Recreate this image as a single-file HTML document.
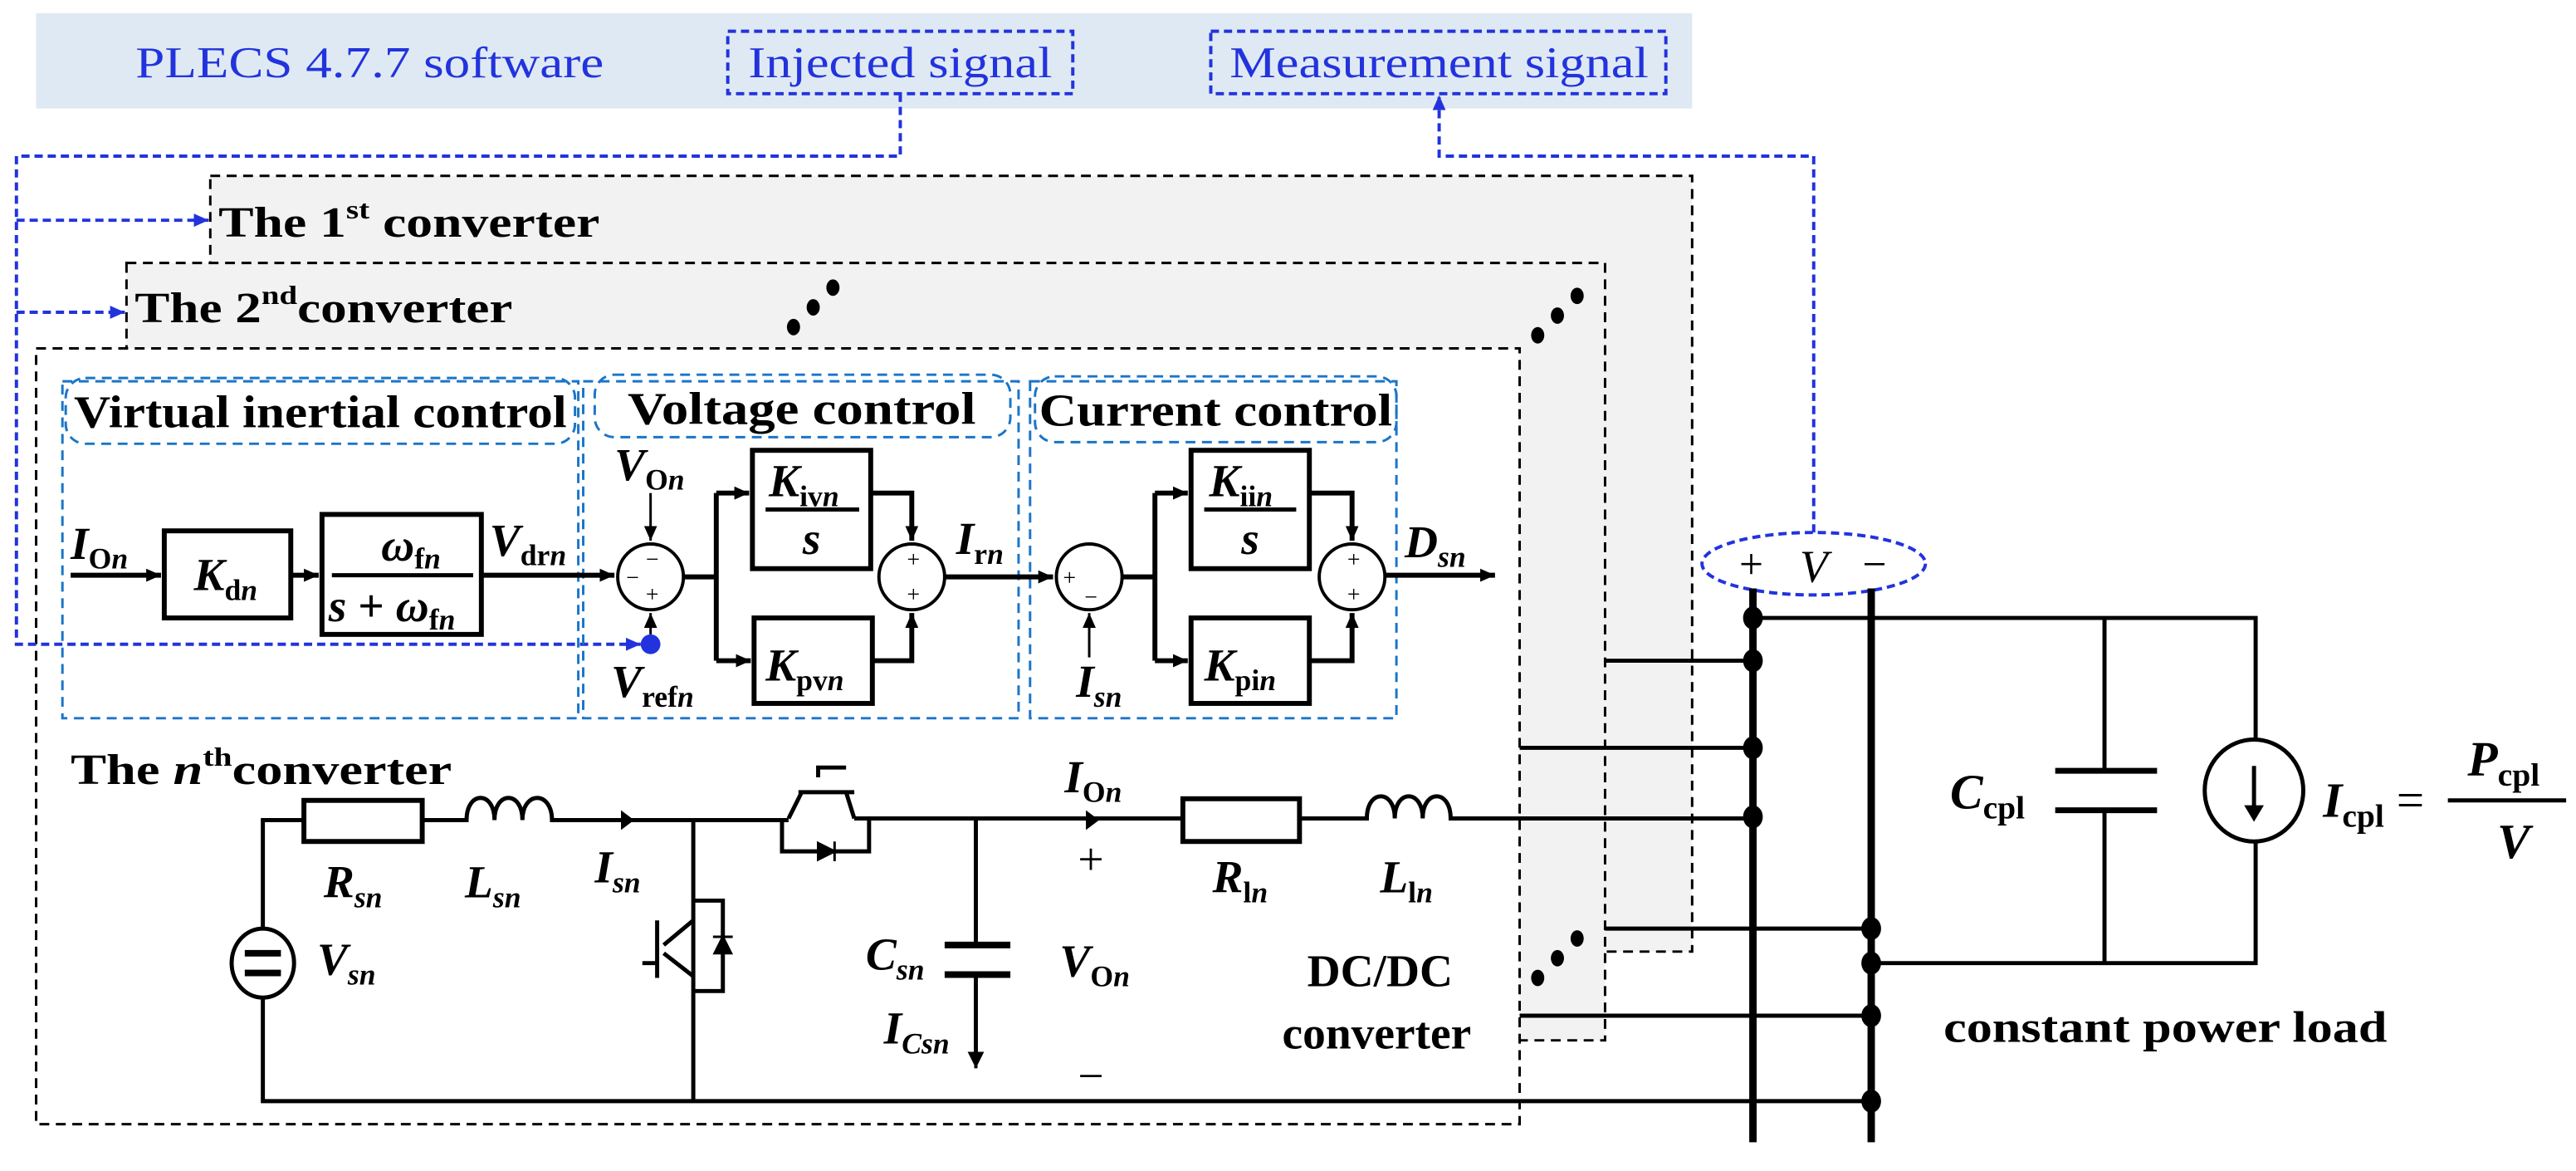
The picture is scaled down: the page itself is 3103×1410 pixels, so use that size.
<!DOCTYPE html>
<html><head><meta charset="utf-8"><style>
html,body{margin:0;padding:0;background:#fff;}
svg{display:block;}
</style></head><body>
<svg width="3103" height="1410" viewBox="0 0 1568 712.5" preserveAspectRatio="none" xmlns="http://www.w3.org/2000/svg" font-family="'Liberation Serif', 'Times New Roman', serif" font-weight="bold">
<defs>
<marker id="ab" markerWidth="10" markerHeight="10" refX="9" refY="5" orient="auto" markerUnits="userSpaceOnUse"><path d="M0,1 L9,5 L0,9 Z" fill="#000"/></marker>
<marker id="abl" markerWidth="10" markerHeight="10" refX="9" refY="5" orient="auto" markerUnits="userSpaceOnUse"><path d="M0,1 L9,5 L0,9 Z" fill="#2233dd"/></marker>
</defs>
<rect x="22" y="8" width="1008" height="58" fill="#dfe9f3"/>
<text x="225" y="47" font-size="27" fill="#2233dd" font-weight="normal" text-anchor="middle" textLength="285" lengthAdjust="spacingAndGlyphs">PLECS 4.7.7 software</text>
<rect x="443" y="19" width="210" height="38" fill="none" stroke="#2233dd" stroke-width="2" stroke-dasharray="5,3"/>
<text x="548" y="47" font-size="27" fill="#2233dd" font-weight="normal" text-anchor="middle" textLength="185" lengthAdjust="spacingAndGlyphs">Injected signal</text>
<rect x="737" y="19" width="277" height="38" fill="none" stroke="#2233dd" stroke-width="2" stroke-dasharray="5,3"/>
<text x="876" y="47" font-size="27" fill="#2233dd" font-weight="normal" text-anchor="middle" textLength="255" lengthAdjust="spacingAndGlyphs">Measurement signal</text>

<rect x="128" y="107" width="902" height="472" fill="#f2f2f2" stroke="#000" stroke-width="1.5" stroke-dasharray="6,4"/>
<rect x="77" y="160" width="900" height="473" fill="#f2f2f2" stroke="#000" stroke-width="1.5" stroke-dasharray="6,4"/>
<rect x="22" y="212" width="903" height="472" fill="#fff" stroke="#000" stroke-width="1.5" stroke-dasharray="6,4"/>
<text x="133" y="144" font-size="26" textLength="232" lengthAdjust="spacingAndGlyphs">The 1<tspan font-size="16" dy="-11">st</tspan><tspan dy="11"> converter</tspan></text>
<text x="82" y="196" font-size="26" textLength="230" lengthAdjust="spacingAndGlyphs">The 2<tspan font-size="16" dy="-11">nd</tspan><tspan dy="11">converter</tspan></text>
<g fill="#000">
<ellipse cx="483" cy="199" rx="4" ry="5"/><ellipse cx="495" cy="187" rx="4" ry="5"/><ellipse cx="507" cy="175" rx="4" ry="5"/>
<ellipse cx="936" cy="204" rx="4" ry="5"/><ellipse cx="948" cy="192" rx="4" ry="5"/><ellipse cx="960" cy="180" rx="4" ry="5"/>
<ellipse cx="936" cy="595" rx="4" ry="5"/><ellipse cx="948" cy="583" rx="4" ry="5"/><ellipse cx="960" cy="571" rx="4" ry="5"/>
</g>

<g fill="none" stroke="#2233dd" stroke-width="2" stroke-dasharray="5,3">
<path d="M548,57 V95 H10 V392 H390" marker-end="url(#abl)"/>
<path d="M10,134 H127" marker-end="url(#abl)"/>
<path d="M10,190 H76" marker-end="url(#abl)"/>
<path d="M1104,324 V95 H876 V58" marker-end="url(#abl)"/>
<ellipse cx="1104" cy="343" rx="68" ry="19"/>
</g>
<circle cx="396" cy="392" r="6" fill="#2233dd"/>
<text x="1066" y="352" font-size="26" font-weight="normal" text-anchor="middle">+</text>
<text x="1104" y="354" font-size="28" font-style="italic" font-weight="normal" text-anchor="middle">V</text>
<text x="1141" y="352" font-size="26" font-weight="normal" text-anchor="middle">−</text>

<g fill="none" stroke="#1a75c8" stroke-width="1.5" stroke-dasharray="6,4">
<rect x="38" y="232" width="314" height="205"/>
<rect x="40" y="230" width="310" height="40" rx="12"/>
<rect x="355" y="232" width="265" height="205"/>
<rect x="362" y="228" width="253" height="38" rx="12"/>
<rect x="627" y="232" width="223" height="205"/>
<rect x="630" y="229" width="220" height="40" rx="12"/>
</g>
<text x="195" y="260" font-size="28" text-anchor="middle" textLength="300" lengthAdjust="spacingAndGlyphs">Virtual inertial control</text>
<text x="488" y="258" font-size="28" text-anchor="middle" textLength="212" lengthAdjust="spacingAndGlyphs">Voltage control</text>
<text x="740" y="259" font-size="28" text-anchor="middle" textLength="215" lengthAdjust="spacingAndGlyphs">Current control</text>

<g stroke="#000" stroke-width="3" fill="#fff">
<rect x="100" y="323" width="77" height="53"/>
<rect x="196" y="313" width="97" height="73"/>
<rect x="458" y="274" width="72" height="72"/>
<rect x="459" y="376" width="72" height="52"/>
<rect x="725" y="274" width="72" height="72"/>
<rect x="725" y="376" width="72" height="52"/>
</g>
<g stroke="#000" stroke-width="2" fill="#fff">
<circle cx="396" cy="351" r="20"/><circle cx="555" cy="351" r="20"/>
<circle cx="663" cy="351" r="20"/><circle cx="823" cy="351" r="20"/>
</g>
<g stroke="#000" stroke-width="3" fill="none">
<line x1="43" y1="350" x2="98" y2="350" marker-end="url(#ab)"/>
<line x1="177" y1="350" x2="194" y2="350" marker-end="url(#ab)"/>
<line x1="293" y1="350" x2="374" y2="350" marker-end="url(#ab)"/>
<line x1="416" y1="351" x2="436" y2="351"/>
<path d="M436,300 V402"/>
<line x1="436" y1="300" x2="456" y2="300" marker-end="url(#ab)"/>
<line x1="436" y1="402" x2="457" y2="402" marker-end="url(#ab)"/>
<path d="M530,300 H555 V329" marker-end="url(#ab)"/>
<path d="M531,402 H555 V373" marker-end="url(#ab)"/>
<line x1="575" y1="351" x2="641" y2="351" marker-end="url(#ab)"/>
<line x1="683" y1="351" x2="703" y2="351"/>
<path d="M703,300 V402"/>
<line x1="703" y1="300" x2="723" y2="300" marker-end="url(#ab)"/>
<line x1="703" y1="402" x2="723" y2="402" marker-end="url(#ab)"/>
<path d="M797,300 H823 V329" marker-end="url(#ab)"/>
<path d="M797,402 H823 V373" marker-end="url(#ab)"/>
<line x1="843" y1="350" x2="910" y2="350" marker-end="url(#ab)"/>
</g>
<g stroke="#000" stroke-width="1.5" fill="none">
<line x1="396" y1="300" x2="396" y2="329" marker-end="url(#ab)"/>
<line x1="396" y1="386" x2="396" y2="373" marker-end="url(#ab)"/>
<line x1="663" y1="400" x2="663" y2="373" marker-end="url(#ab)"/>
<line x1="202" y1="350" x2="288" y2="350" stroke-width="2.5"/>
<line x1="466" y1="310" x2="523" y2="310" stroke-width="2.5"/>
<line x1="733" y1="310" x2="789" y2="310" stroke-width="2.5"/>
</g>
<g font-size="14" font-weight="normal" text-anchor="middle">
<text x="397" y="345">−</text><text x="385" y="356">−</text><text x="397" y="366">+</text>
<text x="556" y="345">+</text><text x="556" y="366">+</text>
<text x="651" y="356">+</text><text x="664" y="368">−</text>
<text x="824" y="345">+</text><text x="824" y="366">+</text>
</g>
<g font-size="28">
<text x="43" y="340"><tspan font-style="italic">I</tspan><tspan font-size="18" dy="6">O<tspan font-style="italic">n</tspan></tspan></text>
<text x="118" y="359"><tspan font-style="italic">K</tspan><tspan font-size="18" dy="6">d<tspan font-style="italic">n</tspan></tspan></text>
<text x="232" y="341" font-style="italic">ω<tspan font-size="18" dy="5" font-style="normal">f<tspan font-style="italic">n</tspan></tspan></text>
<text x="200" y="378" font-style="italic">s<tspan font-style="normal"> + </tspan>ω<tspan font-size="18" dy="5" font-style="normal">f<tspan font-style="italic">n</tspan></tspan></text>
<text x="298" y="338"><tspan font-style="italic">V</tspan><tspan font-size="18" dy="6">dr<tspan font-style="italic">n</tspan></tspan></text>
<text x="374" y="292"><tspan font-style="italic">V</tspan><tspan font-size="18" dy="6">O<tspan font-style="italic">n</tspan></tspan></text>
<text x="372" y="424"><tspan font-style="italic">V</tspan><tspan font-size="18" dy="6">ref<tspan font-style="italic">n</tspan></tspan></text>
<text x="468" y="302"><tspan font-style="italic">K</tspan><tspan font-size="18" dy="6">iv<tspan font-style="italic">n</tspan></tspan></text>
<text x="494" y="337" text-anchor="middle" font-style="italic">s</text>
<text x="466" y="414"><tspan font-style="italic">K</tspan><tspan font-size="18" dy="6">pv<tspan font-style="italic">n</tspan></tspan></text>
<text x="582" y="337"><tspan font-style="italic">I</tspan><tspan font-size="18" dy="6">r<tspan font-style="italic">n</tspan></tspan></text>
<text x="655" y="424"><tspan font-style="italic">I</tspan><tspan font-size="18" dy="6" font-style="italic">sn</tspan></text>
<text x="736" y="302"><tspan font-style="italic">K</tspan><tspan font-size="18" dy="6">ii<tspan font-style="italic">n</tspan></tspan></text>
<text x="761" y="337" text-anchor="middle" font-style="italic">s</text>
<text x="733" y="414"><tspan font-style="italic">K</tspan><tspan font-size="18" dy="6">pi<tspan font-style="italic">n</tspan></tspan></text>
<text x="855" y="339"><tspan font-style="italic">D</tspan><tspan font-size="18" dy="6" font-style="italic">sn</tspan></text>
</g>

<text x="43" y="477" font-size="26" textLength="232" lengthAdjust="spacingAndGlyphs">The <tspan font-style="italic">n</tspan><tspan font-size="16" dy="-11">th</tspan><tspan dy="11">converter</tspan></text>
<g stroke="#000" stroke-width="2.5" fill="none">
<path d="M160,566 V499 H185"/>
<path d="M160,607 V670 H1139"/>
<rect x="185" y="487" width="72" height="25" stroke-width="3"/>
<path d="M257,499 H284 c0,-18 17,-18 17,0 c0,-18 17,-18 17,0 c0,-18 18,-18 18,0 H480"/>
<path d="M520,498 H594 V575"/>
<path d="M594,593 V640"/>
<path d="M594,498 H720"/>
<rect x="720" y="486" width="71" height="26" stroke-width="3"/>
<path d="M791,498 H832 c0,-18 17,-18 17,0 c0,-18 17,-18 17,0 c0,-18 17,-18 17,0 H1067"/>
<ellipse cx="160" cy="586" rx="19" ry="21"/>
<path d="M422,499 V670"/>
<path d="M422,548 H440 V603 H422"/>
<path d="M480,498 L488,482 M515,482 L520,498 M486,482 H520 M498,473 V467 H515"/>
<path d="M476,498 V518 H529 V498"/>
<path d="M422,560 L404,575 M404,580 L422,594 M400,560 V595 M391,586 H400"/>
<path d="M575,575 H615 M575,593 H615" stroke-width="4"/>
</g>
<path d="M149,580 H171 M149,592 H171" stroke="#000" stroke-width="4"/>
<path d="M498,513 L508,518 L498,523 Z M508,512 V524" fill="#000" stroke="#000" stroke-width="1.5"/>
<path d="M435,580 L440,570 L445,580 Z M434,570 H446" fill="#000" stroke="#000" stroke-width="1.5"/>
<path d="M378,493 L386,499 L378,505 Z M661,493 L669,499 L661,505 Z M589,640 L594,650 L599,640 Z" fill="#000"/>
<line x1="594" y1="640" x2="594" y2="650" stroke="#000" stroke-width="2"/>
<g font-size="28">
<text x="197" y="546"><tspan font-style="italic">R</tspan><tspan font-size="18" dy="6" font-style="italic">sn</tspan></text>
<text x="283" y="546"><tspan font-style="italic">L</tspan><tspan font-size="18" dy="6" font-style="italic">sn</tspan></text>
<text x="362" y="537"><tspan font-style="italic">I</tspan><tspan font-size="18" dy="6" font-style="italic">sn</tspan></text>
<text x="193" y="593"><tspan font-style="italic">V</tspan><tspan font-size="18" dy="6" font-style="italic">sn</tspan></text>
<text x="527" y="590"><tspan font-style="italic">C</tspan><tspan font-size="18" dy="6" font-style="italic">sn</tspan></text>
<text x="538" y="635"><tspan font-style="italic">I</tspan><tspan font-size="18" dy="6" font-style="italic">Csn</tspan></text>
<text x="645" y="594"><tspan font-style="italic">V</tspan><tspan font-size="18" dy="6">O<tspan font-style="italic">n</tspan></tspan></text>
<text x="648" y="482"><tspan font-style="italic">I</tspan><tspan font-size="18" dy="6">O<tspan font-style="italic">n</tspan></tspan></text>
<text x="738" y="543"><tspan font-style="italic">R</tspan><tspan font-size="18" dy="6">l<tspan font-style="italic">n</tspan></tspan></text>
<text x="840" y="543"><tspan font-style="italic">L</tspan><tspan font-size="18" dy="6">l<tspan font-style="italic">n</tspan></tspan></text>
<text x="664" y="532" font-weight="normal" text-anchor="middle">+</text>
<text x="664" y="664" font-weight="normal" text-anchor="middle">−</text>
<text x="840" y="600" text-anchor="middle">DC/DC</text>
<text x="838" y="638" text-anchor="middle">converter</text>
</g>

<g stroke="#000" stroke-width="2.5" fill="none">
<path d="M977,402 H1067 M925,455 H1067 M977,565 H1139 M925,618 H1139"/>
<path d="M1067,376 H1373 V450 M1373,512 V586 H1139"/>
<path d="M1281,376 V469 M1281,493 V586"/>
<ellipse cx="1372" cy="481" rx="30" ry="31"/>
<path d="M1251,469 H1313 M1251,493 H1313" stroke-width="3.5"/>
<path d="M1372,466 V493"/>
<path d="M1490,487 H1562"/>
</g>
<path d="M1366,490 L1372,500 L1378,490 Z" fill="#000"/>
<path d="M1067,358 V695 M1139,358 V695" stroke="#000" stroke-width="4.5"/>
<g fill="#000">
<ellipse cx="1067" cy="376" rx="6" ry="7"/><ellipse cx="1067" cy="402" rx="6" ry="7"/>
<ellipse cx="1067" cy="455" rx="6" ry="7"/><ellipse cx="1067" cy="497" rx="6" ry="7"/>
<ellipse cx="1139" cy="565" rx="6" ry="7"/><ellipse cx="1139" cy="586" rx="6" ry="7"/>
<ellipse cx="1139" cy="618" rx="6" ry="7"/><ellipse cx="1139" cy="670" rx="6" ry="7"/>
</g>
<g font-size="30">
<text x="1187" y="492"><tspan font-style="italic">C</tspan><tspan font-size="20" dy="6">cpl</tspan></text>
<text x="1414" y="497"><tspan font-style="italic">I</tspan><tspan font-size="20" dy="6">cpl</tspan><tspan dy="-6" font-weight="normal"> =</tspan></text>
<text x="1502" y="472"><tspan font-style="italic">P</tspan><tspan font-size="20" dy="6">cpl</tspan></text>
<text x="1520" y="522" font-style="italic">V</text>
</g>
<text x="1183" y="634" font-size="27" textLength="270" lengthAdjust="spacingAndGlyphs">constant power load</text>
</svg>
</body></html>
